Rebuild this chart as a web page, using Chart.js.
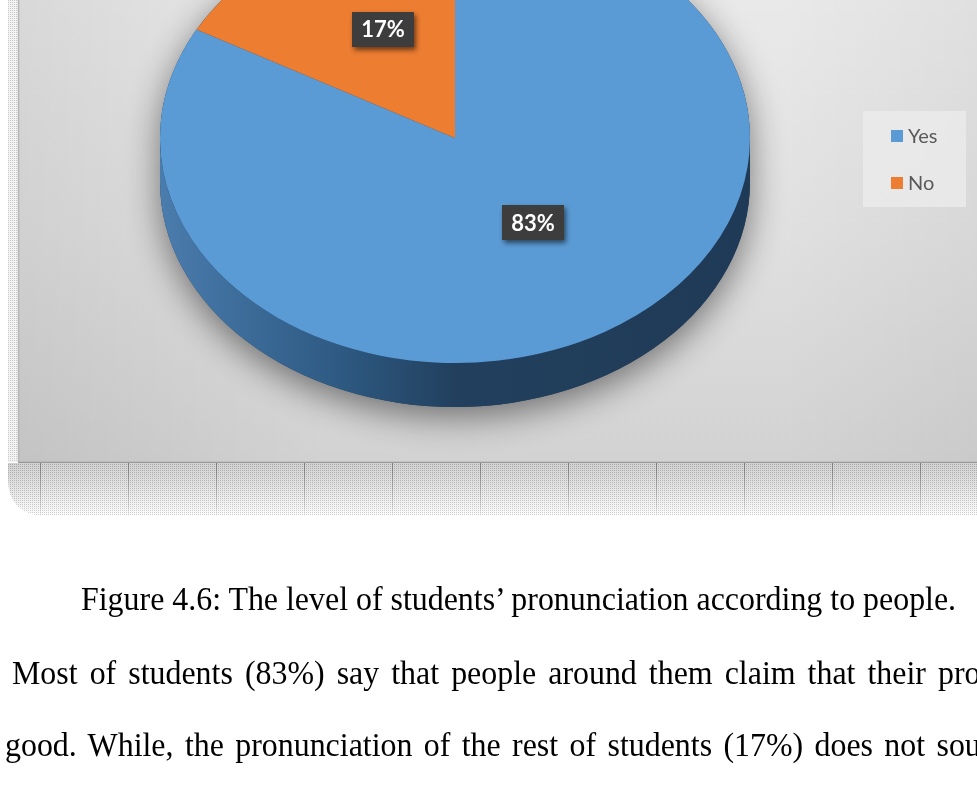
<!DOCTYPE html>
<html>
<head>
<meta charset="utf-8">
<title>Students' pronunciation according to people</title>
<script src="https://cdn.jsdelivr.net/npm/chart.js@4.4.1/dist/chart.umd.min.js"></script>
<style>
  html, body { margin: 0; padding: 0; background: #fff; width: 977px; height: 793px; overflow: hidden; }
  #wrap { position: relative; width: 977px; height: 793px; overflow: hidden; }
  #pie { position: absolute; left: 0; top: 0; }
  .line {
    position: absolute; left: 0; white-space: nowrap;
    font-family: 'Liberation Serif', 'Times New Roman', serif;
    font-size: 33px; line-height: 33px; color: #000;
    transform-origin: 0 0;
  }
</style>
</head>
<body>
<div id="wrap">
  <canvas id="pie" width="977" height="793"></canvas>
  <div class="line" id="caption" style="top:583px"></div>
  <div class="line" id="line1" style="top:657px"></div>
  <div class="line" id="line2" style="top:729px"></div>
</div>
<script>
// ---- data ----
const categories = ['Yes', 'No'];
const shares = [83, 17];

// ---- styling ----
const sliceColors = ['#5b9bd5', '#ed7d31'];
const sideShades = [
  ['#4a7cad', '#2e5a83', '#22405e', '#1f3a56'],
  ['#b5591c', '#9a4a16', '#833f12', '#7a3a10']
];
const FACE_CY = 138;          // on-screen centre of the pie's top face
const SQUASH = 225 / 295;     // vertical flattening of the tilted pie
const DEPTH = 44;             // thickness of the pie's rim
const LABEL_SHIFT_Y = -12;

function faceGeom(chart) {
  const arc = chart.getDatasetMeta(0).data[0];
  const rx = arc.outerRadius;
  return { cx: arc.x, cy0: arc.y, cy: FACE_CY, rx: rx, ry: rx * SQUASH };
}

function stipplePattern(ctx, dark, light) {
  const c = document.createElement('canvas');
  c.width = 2; c.height = 2;
  const g = c.getContext('2d');
  g.fillStyle = light; g.fillRect(0, 0, 2, 2);
  g.fillStyle = dark; g.fillRect(0, 0, 1, 1);
  return ctx.createPattern(c, 'repeat');
}

// grey backdrop, frame texture and the reflection band below it
const panelPlugin = {
  id: 'panel',
  beforeDraw(chart) {
    const ctx = chart.ctx;
    const W = chart.width;
    ctx.save();
    ctx.fillStyle = '#ffffff';
    ctx.fillRect(0, 0, W, chart.height);

    // dotted frame strip on the left
    ctx.fillStyle = stipplePattern(ctx, '#c9c9c9', '#f4f4f4');
    ctx.fillRect(8, 0, 10, 462);

    // chart panel
    const vg = ctx.createLinearGradient(0, 0, 0, 462);
    vg.addColorStop(0, '#e9e9e9');
    vg.addColorStop(0.5, '#e0e0e0');
    vg.addColorStop(1, '#d2d2d2');
    ctx.fillStyle = vg;
    ctx.fillRect(18, 0, W - 18, 462);
    const hg = ctx.createLinearGradient(18, 0, 330, 0);
    hg.addColorStop(0, 'rgba(0,0,0,0.07)');
    hg.addColorStop(1, 'rgba(0,0,0,0)');
    ctx.fillStyle = hg;
    ctx.fillRect(18, 0, 320, 462);
    const rg = ctx.createLinearGradient(780, 0, W, 0);
    rg.addColorStop(0, 'rgba(0,0,0,0)');
    rg.addColorStop(1, 'rgba(0,0,0,0.04)');
    ctx.fillStyle = rg;
    ctx.fillRect(780, 0, W - 780, 462);

    ctx.strokeStyle = '#b5b5b5';
    ctx.lineWidth = 1.5;
    ctx.beginPath(); ctx.moveTo(18.5, 0); ctx.lineTo(18.5, 462); ctx.stroke();
    ctx.strokeStyle = '#9a9a9a';
    ctx.beginPath(); ctx.moveTo(18, 462.5); ctx.lineTo(W, 462.5); ctx.stroke();

    // reflection band
    ctx.beginPath();
    ctx.moveTo(8, 463);
    ctx.lineTo(W, 463);
    ctx.lineTo(W, 516);
    ctx.lineTo(48, 516);
    ctx.quadraticCurveTo(8, 516, 8, 478);
    ctx.closePath();
    const bg = ctx.createLinearGradient(0, 463, 0, 516);
    bg.addColorStop(0, '#b9b9b9');
    bg.addColorStop(0.5, '#d8d8d8');
    bg.addColorStop(1, '#fbfbfb');
    ctx.fillStyle = bg;
    ctx.fill();
    ctx.save();
    ctx.clip();
    ctx.globalAlpha = 0.35;
    ctx.fillStyle = stipplePattern(ctx, '#8a8a8a', '#ffffff');
    ctx.fillRect(0, 463, W, 53);
    ctx.globalAlpha = 1;
    const lg = ctx.createLinearGradient(0, 463, 0, 516);
    lg.addColorStop(0, 'rgba(110,110,110,0.8)');
    lg.addColorStop(1, 'rgba(110,110,110,0.05)');
    ctx.strokeStyle = lg;
    ctx.lineWidth = 1;
    for (let x = 40.5; x < W; x += 88) {
      ctx.beginPath(); ctx.moveTo(x, 463); ctx.lineTo(x, 516); ctx.stroke();
    }
    ctx.restore();
    ctx.restore();
  }
};

// rim of the tilted pie, then flatten the library's slices into the top face
const tiltPlugin = {
  id: 'tilt',
  beforeDatasetsDraw(chart) {
    const ctx = chart.ctx;
    const g = faceGeom(chart);
    const meta = chart.getDatasetMeta(0);

    // silhouette with a soft drop shadow
    ctx.save();
    ctx.shadowColor = 'rgba(0,0,0,0.48)';
    ctx.shadowBlur = 34;
    ctx.shadowOffsetY = 10;
    ctx.beginPath();
    ctx.ellipse(g.cx, g.cy, g.rx, g.ry, 0, Math.PI, 2 * Math.PI);
    ctx.ellipse(g.cx, g.cy + DEPTH, g.rx, g.ry, 0, 0, Math.PI);
    ctx.closePath();
    ctx.fillStyle = '#22405e';
    ctx.fill();
    ctx.restore();

    // front-facing rim of each slice
    meta.data.forEach((el, i) => {
      const s = el.startAngle, e = el.endAngle;
      const shades = sideShades[i % sideShades.length];
      for (let k = -1; k <= 2; k++) {
        const lo = 2 * Math.PI * k, hi = lo + Math.PI;
        const a = Math.max(s, lo), b = Math.min(e, hi);
        if (b <= a) continue;
        const grad = ctx.createLinearGradient(g.cx - g.rx, 0, g.cx + g.rx, 0);
        grad.addColorStop(0, shades[0]);
        grad.addColorStop(0.3, shades[1]);
        grad.addColorStop(0.5, shades[2]);
        grad.addColorStop(1, shades[3]);
        ctx.beginPath();
        ctx.ellipse(g.cx, g.cy, g.rx, g.ry, 0, a - lo, b - lo);
        ctx.ellipse(g.cx, g.cy + DEPTH, g.rx, g.ry, 0, b - lo, a - lo, true);
        ctx.closePath();
        ctx.fillStyle = grad;
        ctx.fill();
      }
    });

    ctx.save();
    ctx.translate(0, g.cy);
    ctx.scale(1, SQUASH);
    ctx.translate(0, -g.cy0);
  },
  afterDatasetsDraw(chart) {
    const ctx = chart.ctx;
    ctx.restore();

    // value labels in dark boxes
    const g = faceGeom(chart);
    const meta = chart.getDatasetMeta(0);
    const values = chart.data.datasets[0].data;
    ctx.save();
    ctx.font = 'bold 22px Lato, "Open Sans", sans-serif';
    ctx.textAlign = 'center';
    ctx.textBaseline = 'middle';
    meta.data.forEach((el, i) => {
      const p = el.tooltipPosition();
      const x = p.x + 3;
      const y = g.cy + (p.y - g.cy0) * SQUASH + LABEL_SHIFT_Y;
      const text = values[i] + '%';
      const w = ctx.measureText(text).width + 18;
      const h = 35;
      ctx.save();
      ctx.shadowColor = 'rgba(0,0,0,0.55)';
      ctx.shadowBlur = 5;
      ctx.shadowOffsetX = 2;
      ctx.shadowOffsetY = 3;
      ctx.fillStyle = '#3d3d3d';
      ctx.fillRect(Math.round(x - w / 2), Math.round(y - h / 2), Math.round(w), h);
      ctx.restore();
      ctx.fillStyle = '#ffffff';
      ctx.fillText(text, x, y + 1);
    });
    ctx.restore();
  }
};

// legend box on the right
const legendPlugin = {
  id: 'sideLegend',
  afterDraw(chart) {
    const ctx = chart.ctx;
    const colors = chart.data.datasets[0].backgroundColor;
    const box = { x: 863, y: 111, w: 103, h: 96 };
    ctx.save();
    ctx.fillStyle = 'rgba(236,236,236,0.75)';
    ctx.fillRect(box.x, box.y, box.w, box.h);
    ctx.font = '20px Lato, "Open Sans", sans-serif';
    ctx.textBaseline = 'middle';
    ctx.textAlign = 'left';
    chart.data.labels.forEach((label, i) => {
      const cy = box.y + 25 + i * 47;
      ctx.fillStyle = colors[i];
      ctx.fillRect(box.x + 28, cy - 6, 12, 12);
      ctx.fillStyle = '#595959';
      ctx.fillText(label, box.x + 45, cy + 1);
    });
    ctx.restore();
  }
};

new Chart(document.getElementById('pie'), {
  type: 'pie',
  data: {
    labels: categories,
    datasets: [{
      data: shares,
      backgroundColor: sliceColors,
      borderWidth: 0,
      hoverOffset: 0,
      clip: false
    }]
  },
  options: {
    responsive: false,
    animation: false,
    events: [],
    radius: 295,
    layout: { padding: { left: 155, right: 222, top: 5, bottom: 188 } },
    plugins: {
      legend: { display: false },
      tooltip: { enabled: false }
    }
  },
  plugins: [panelPlugin, tiltPlugin, legendPlugin]
});

// ---- text under the figure (condensed serif) ----
const captionText = 'Figure 4.6: The level of students\u2019 pronunciation according to people.';
const line1Text = 'Most of students (' + shares[0] + '%) say that people around them claim that their pronunciation';
const line2Text = 'good. While, the pronunciation of the rest of students (' + shares[1] + '%) does not sound';

const measure = document.createElement('canvas').getContext('2d');
measure.font = '33px "Liberation Serif", "Times New Roman", serif';

// the caption sets the horizontal squeeze used for every line
const captionStart = 81, captionEnd = 959;
const squeeze = (captionEnd - captionStart) / measure.measureText(captionText).width;

function place(id, text, startX, spacing) {
  const el = document.getElementById(id);
  el.textContent = text;
  el.style.left = startX + 'px';
  el.style.wordSpacing = spacing.toFixed(2) + 'px';
  el.style.transform = 'scaleX(' + squeeze.toFixed(4) + ')';
}
// spread a justified line so its last word begins at lastWordX
function justified(id, text, startX, lastWordX) {
  const cut = text.lastIndexOf(' ') + 1;
  const prefix = text.slice(0, cut);
  const gaps = prefix.split(' ').length - 1;
  const extra = ((lastWordX - startX) / squeeze - measure.measureText(prefix).width) / gaps;
  place(id, text, startX, extra);
}
place('caption', captionText, captionStart, 0);
justified('line1', line1Text, 12, 938);
justified('line2', line2Text, 5, 937);
</script>
</body>
</html>
